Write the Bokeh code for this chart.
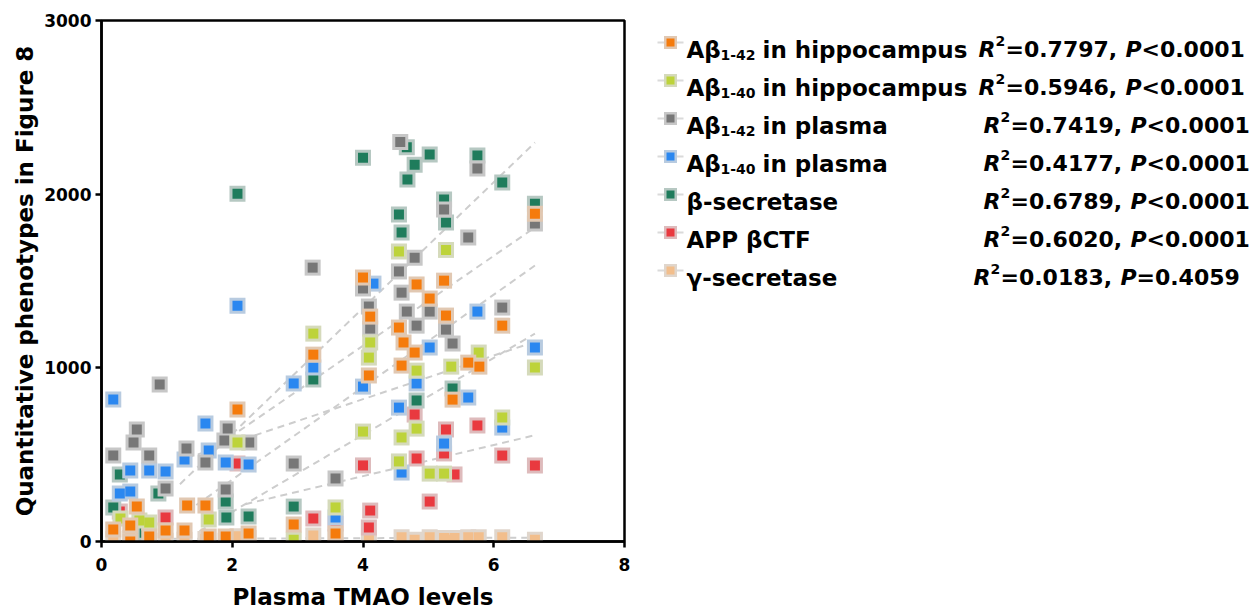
import numpy as np
from bokeh.plotting import figure
from bokeh.layouts import row
from bokeh.models import Range1d, FixedTicker
from bokeh.core.properties import value
from bokeh.embed import file_html
from bokeh.resources import INLINE

# ---------------- data ----------------
series_keys = ["ab42_hip", "ab40_hip", "ab42_pla", "ab40_pla", "bsec", "ctf", "gsec"]
series_colors = ["#f57b0c", "#bdd33a", "#777777", "#2a87f0", "#1f7c5c", "#e9393f", "#f2be8c"]

ab42_hip_x = [0.18, 0.44, 0.44, 0.54, 0.73, 0.98, 1.27, 1.31, 1.59, 1.64, 1.90, 2.08, 2.25, 2.94, 3.24, 3.58,
              4.00, 4.09, 4.11, 4.55, 4.59, 4.62, 4.79, 4.82, 5.02, 5.24, 5.27, 5.37, 5.61, 5.78, 6.13, 6.63]
ab42_hip_y = [69, 0, 92, 201, 29, 63, 63, 207, 207, 29, 29, 760, 46, 98, 1076, 46,
              1520, 956, 1295, 1232, 1013, 1146, 1088, 1480, 1399, 1502, 1301, 817, 1030, 1007, 1243, 1887]

ab40_hip_x = [0.29, 0.58, 0.73, 1.64, 2.08, 2.94, 3.24, 3.58, 4.00, 4.09, 4.11, 4.55, 4.55, 4.59, 4.82, 4.82,
              5.02, 5.24, 5.27, 5.35, 5.77, 6.13, 6.63]
ab40_hip_y = [132, 121, 110, 127, 570, 10, 1197, 196, 633, 1059, 1146, 1670, 461, 599, 984, 650,
              391, 391, 1679, 1007, 1088, 714, 1002]

ab42_pla_x = [0.18, 0.49, 0.54, 0.73, 0.89, 0.98, 1.30, 1.59, 1.88, 1.90, 1.93, 2.26, 2.94, 3.23, 3.58, 4.00,
              4.09, 4.11, 4.55, 4.57, 4.59, 4.67, 4.79, 4.82, 5.02, 5.24, 5.27, 5.37, 5.61, 5.75, 6.13, 6.63]
ab42_pla_y = [495, 570, 645, 495, 904, 305, 535, 455, 581, 299, 650, 570, 449, 1577, 363, 1457,
              1353, 1226, 1555, 2300, 1433, 1324, 1634, 1243, 1324, 1911, 1220, 1140, 1750, 2148, 1347, 1831]

ab40_pla_x = [0.18, 0.28, 0.44, 0.44, 0.73, 0.98, 1.27, 1.59, 1.64, 1.90, 2.08, 2.25, 2.94, 3.24, 3.58, 4.00,
              4.16, 4.55, 4.59, 4.82, 5.02, 5.24, 5.61, 5.75, 6.13, 6.63]
ab40_pla_y = [817, 276, 409, 288, 409, 403, 472, 679, 524, 455, 1358, 443, 910, 1002, 138, 892,
              1485, 771, 397, 910, 1117, 564, 829, 1324, 656, 1117]

bsec_x = [0.18, 0.28, 0.66, 0.87, 1.90, 1.91, 2.08, 2.25, 2.94, 3.24, 4.00, 4.55, 4.59, 4.67, 4.68, 4.79,
          4.82, 5.02, 5.24, 5.27, 5.37, 5.75, 6.13, 6.63]
bsec_y = [196, 386, 50, 276, 230, 138, 2003, 144, 201, 933, 2210, 1883, 1779, 2270, 2084, 2170,
          812, 2228, 1969, 1837, 881, 2222, 2067, 1945]

ctf_x = [0.28, 0.98, 2.08, 3.24, 3.58, 4.00, 4.09, 4.11, 4.79, 4.82, 5.02, 5.24, 5.27, 5.40, 5.75, 6.13, 6.63]
ctf_y = [173, 138, 449, 132, 104, 438, 81, 178, 731, 478, 230, 507, 645, 386, 668, 495, 438]

gsec_x = [0.18, 0.44, 0.54, 0.98, 1.27, 1.59, 1.90, 2.08, 2.25, 3.24, 3.58, 4.09, 4.59, 4.79, 5.02, 5.24,
          5.27, 5.40, 5.61, 5.77, 6.13, 6.63]
gsec_y = [15, 20, 10, 5, 10, 15, 5, 30, 20, 35, 25, 20, 25, 10, 25, 20,
          10, 20, 25, 25, 25, 10]

# regression lines: start and end points
fit_x0 = [1.3, 1.5, 1.5, 1.3, 1.2, 2.2, 0.18]
fit_y0 = [170, 60, 480, 480, 330, 215, 15]
fit_x1 = [6.63, 6.63, 6.63, 6.63, 6.63, 6.63, 6.63]
fit_y1 = [1589, 1197, 1808, 1150, 2297, 612, 22]

legend_main = ["Aβ", "Aβ", "Aβ", "Aβ", "β-secretase", "APP βCTF", "γ-secretase"]
legend_sub = ["1-42", "1-40", "1-42", "1-40", "", "", ""]
legend_rest = ["in hippocampus", "in hippocampus", "in plasma", "in plasma", "", "", ""]
r2_values = ["0.7797", "0.5946", "0.7419", "0.4177", "0.6789", "0.6020", "0.0183"]
p_values = ["<0.0001", "<0.0001", "<0.0001", "<0.0001", "<0.0001", "<0.0001", "=0.4059"]

xs = [ab42_hip_x, ab40_hip_x, ab42_pla_x, ab40_pla_x, bsec_x, ctf_x, gsec_x]
ys = [ab42_hip_y, ab40_hip_y, ab42_pla_y, ab40_pla_y, bsec_y, ctf_y, gsec_y]

FONT = "DejaVu Sans"


def halo(c, k=0.2, base=(0xdc, 0xdc, 0xdc)):
    r, g, b = int(c[1:3], 16), int(c[3:5], 16), int(c[5:7], 16)
    mix = [int(k * a + (1 - k) * bb) for a, bb in zip((r, g, b), base)]
    return "#%02x%02x%02x" % tuple(mix)


# ---------------- main plot ----------------
p = figure(width=640, height=612, x_range=Range1d(0, 8), y_range=Range1d(0, 3000),
           output_backend="svg", toolbar_location=None,
           min_border_left=101, min_border_right=16, min_border_top=20, min_border_bottom=71)
p.grid.visible = False
p.outline_line_color = "black"
p.outline_line_width = 2.5
p.outline_line_alpha = 1.0
p.background_fill_color = "white"
p.border_fill_color = "white"

p.xaxis.ticker = FixedTicker(ticks=[0, 2, 4, 6, 8])
p.yaxis.ticker = FixedTicker(ticks=[0, 1000, 2000, 3000])
for ax in (p.xaxis, p.yaxis):
    ax.axis_line_width = 2.5
    ax.axis_line_color = "black"
    ax.major_tick_line_width = 2.5
    ax.major_tick_out = 6
    ax.major_tick_in = 0
    ax.minor_tick_out = 0
    ax.minor_tick_in = 0
    ax.major_label_text_font = FONT
    ax.major_label_text_font_style = "bold"
    ax.major_label_text_font_size = "17px"
    ax.major_label_text_color = "black"
    ax.axis_label_text_font = FONT
    ax.axis_label_text_font_style = "bold"
    ax.axis_label_text_color = "black"
p.xaxis.axis_label = "Plasma TMAO levels"
p.yaxis.axis_label = "Quantitative phenotypes in Figure 8"
p.xaxis.axis_label_text_font_size = "23px"
p.yaxis.axis_label_text_font_size = "23px"
p.xaxis.major_label_standoff = 10
p.yaxis.major_label_standoff = 4
p.xaxis.axis_label_standoff = 10
p.yaxis.axis_label_standoff = 3

# regression lines
p.segment(x0=fit_x0, y0=fit_y0, x1=fit_x1, y1=fit_y1, line_color="#cdcdcd",
          line_width=2, line_dash="7 5")

# markers, drawn in reverse legend order
for i in reversed(range(len(series_keys))):
    c = series_colors[i]
    p.scatter(xs[i], ys[i], marker="square", size=16, fill_color=halo(c), line_color=None)
    p.scatter(xs[i], ys[i], marker="square", size=10, fill_color=c, line_color=None)

# ---------------- legend panel ----------------
leg = figure(width=615, height=612, x_range=Range1d(0, 615), y_range=Range1d(541, 20),
             x_axis_type=None, y_axis_type=None, output_backend="svg", toolbar_location=None,
             min_border_left=0, min_border_right=0, min_border_top=20, min_border_bottom=71,
             outline_line_color=None)
leg.grid.visible = False

n = len(series_keys)
row_y = [42 + 38 * i for i in range(n)]
base_y = [y + 7 for y in row_y]
mk_x = 30
txt_x = 46
stat_x = [338, 338, 343, 343, 343, 343, 333]

leg.segment(x0=[mk_x - 13] * n, y0=row_y, x1=[mk_x + 13] * n, y1=row_y, line_color="#dadada", line_width=2)
leg.scatter([mk_x] * n, row_y, marker="square", size=13, fill_color=[halo(c) for c in series_colors], line_color=None)
leg.scatter([mk_x] * n, row_y, marker="square", size=8, fill_color=series_colors, line_color=None)

common = dict(text_font=value(FONT), text_color="black", text_baseline="alphabetic", text_align="left")
leg.text(x=[txt_x] * n, y=base_y, text=legend_main, text_font_size="23px", text_font_style="bold", **common)

sub_idx = [i for i in range(n) if legend_sub[i]]
leg.text(x=[txt_x + 34] * len(sub_idx), y=[base_y[i] + 5 for i in sub_idx],
         text=[legend_sub[i] for i in sub_idx], text_font_size="14px", text_font_style="bold", **common)
leg.text(x=[txt_x + 76] * len(sub_idx), y=[base_y[i] for i in sub_idx],
         text=[legend_rest[i] for i in sub_idx], text_font_size="23px", text_font_style="bold", **common)

# statistics column
leg.text(x=stat_x, y=base_y, text=["R"] * n, text_font_size="22px", text_font_style="bold italic", **common)
leg.text(x=[s + 17 for s in stat_x], y=[b - 9 for b in base_y], text=["2"] * n,
         text_font_size="14px", text_font_style="bold", **common)
leg.text(x=[s + 27 for s in stat_x], y=base_y, text=["=" + v + "," for v in r2_values],
         text_font_size="22px", text_font_style="bold", **common)
leg.text(x=[s + 147 for s in stat_x], y=base_y, text=["P"] * n,
         text_font_size="22px", text_font_style="bold italic", **common)
leg.text(x=[s + 163 for s in stat_x], y=base_y, text=p_values,
         text_font_size="22px", text_font_style="bold", **common)

layout = row(p, leg)
open("out.html", "w").write(file_html(layout, INLINE))
